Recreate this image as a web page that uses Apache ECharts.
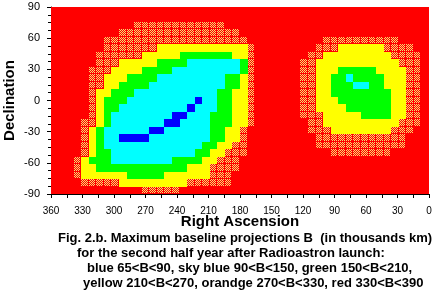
<!DOCTYPE html>
<html><head><meta charset="utf-8">
<script src="https://cdn.jsdelivr.net/npm/echarts@6/dist/echarts.min.js"></script>
<style>html,body{margin:0;padding:0;background:#fff}#c{width:436px;height:297px}</style>
</head><body><div id="c"></div>
<script>
// ---- DATA ----
// Map cell size in degrees (RA and Dec)
const cellStep = 7.2;
// Class codes, low to high baseline B (thousands km)
const classCodes = ['b', 'c', 'g', 'y', 'o', 'r'];
const classNames = ['blue 65<B<90', 'sky blue 90<B<150', 'green 150<B<210', 'yellow 210<B<270', 'orange 270<B<330', 'red 330<B<390'];
// Rows from Dec +90 (top) to Dec -90 (bottom); columns from RA 360 (left) to RA 0 (right); run-length encoded
const rows = [
  "r50",
  "r50",
  "r11 o12 r27",
  "r9 o16 r25",
  "r7 o19 r10 o10 r4",
  "r7 o7 y12 o1 r8 o3 y6 o4 r2",
  "r6 o6 y5 g7 y2 o1 r7 o2 y9 o4 r1",
  "r6 o3 y5 g4 c7 g1 o1 r6 o2 y11 o3 r1",
  "r5 o3 y4 g4 c9 g1 o1 r6 o2 y3 g5 y4 o2 r1",
  "r5 o2 y3 g4 c9 g2 y1 o1 r6 o2 y2 g2 c1 g4 y3 o2 r1",
  "r5 o2 y2 g4 c10 g2 y1 o1 r6 o2 y2 g3 c2 g2 y3 o2 r1",
  "r5 o1 y2 g3 c11 g2 y2 o1 r6 o2 y2 g8 y2 o2 r1",
  "r5 o1 y1 g3 c9 b1 c2 g2 y2 o1 r6 o2 y3 g7 y2 o2 r1",
  "r5 o1 y1 g2 c9 b1 c3 g2 y2 o1 r6 o2 y4 g6 y2 o2 r1",
  "r5 o1 y1 g1 c8 b2 c3 g3 y2 o1 r6 o3 y5 g4 y2 o2 r1",
  "r4 o2 y1 g1 c7 b2 c4 g3 y2 o1 r7 o2 y10 o3 r1",
  "r4 o1 y1 g1 c6 b2 c6 g2 y2 o1 r8 o3 y8 o3 r2",
  "r4 o1 y1 g1 c2 b4 c8 g2 y2 o1 r9 o12 r3",
  "r4 o1 y1 g1 c13 g2 y2 o2 r9 o12 r3",
  "r4 o1 y1 g2 c11 g2 y2 o3 r11 o8 r5",
  "r3 o1 y1 g3 c8 g4 y2 o3 r25",
  "r3 o1 y2 g12 y3 o4 r25",
  "r3 o1 y6 g5 y6 o3 r26",
  "r4 o5 y9 o6 r26",
  "r12 o5 r33"
];
const xAxisName = 'Right Ascension';
const yAxisName = 'Declination';
const captionLines = [
  'Fig. 2.b. Maximum baseline projections B  (in thousands km)',
  'for the second half year after Radioastron launch:',
  'blue 65<B<90, sky blue 90<B<150, green 150<B<210,',
  'yellow 210<B<270, orandge 270<B<330, red 330<B<390'
];

// ---- BUILD ----
const cells = [];
rows.forEach(function (row, r) {
  let col = 0;
  row.split(' ').forEach(function (tok) {
    const code = tok[0], n = parseInt(tok.slice(1), 10);
    for (let i = 0; i < n; i++, col++) {
      cells.push([360 - cellStep * (col + 0.5), 90 - cellStep * (r + 0.5), classCodes.indexOf(code)]);
    }
  });
});

// dithered orange (red + pale yellow) pattern
const pc = document.createElement('canvas');
pc.width = 2; pc.height = 2;
const pctx = pc.getContext('2d');
pctx.fillStyle = '#ff0000'; pctx.fillRect(0, 0, 2, 2);
pctx.fillStyle = '#f6dc70'; pctx.fillRect(0, 0, 1, 1); pctx.fillRect(1, 1, 1, 1);
const fills = ['#0000ff', '#00ffff', '#00ff00', '#ffff00', { image: pc, repeat: 'repeat' }, '#ff0000'];

const FONT = '"Liberation Sans", Arial, sans-serif';
const chart = echarts.init(document.getElementById('c'), null, { renderer: 'canvas' });

function renderItem(params, api) {
  const ra = api.value(0), dec = api.value(1), k = api.value(2);
  const h = cellStep / 2;
  const a = api.coord([ra + h, dec + h]);
  const b = api.coord([ra - h, dec - h]);
  const x0 = Math.round(Math.min(a[0], b[0])), x1 = Math.round(Math.max(a[0], b[0]));
  const y0 = Math.round(Math.min(a[1], b[1])), y1 = Math.round(Math.max(a[1], b[1]));
  const gap = classCodes[k] === 'o' ? 1 : 0;
  return {
    type: 'rect',
    shape: { x: x0, y: y0, width: x1 - x0 - gap, height: y1 - y0 - gap },
    style: { fill: fills[k] }
  };
}

const axisCommon = {
  axisLine: { show: true, onZero: false, lineStyle: { color: '#000', width: 1 } },
  axisTick: { show: true, length: 4, lineStyle: { color: '#000', width: 1 } },
  axisLabel: { fontSize: 10, color: '#000', fontFamily: FONT },
  splitLine: { show: false },
  nameMoveOverlap: false,
  nameTextStyle: { fontSize: 15, fontWeight: 'bold', color: '#000', fontFamily: FONT }
};

chart.setOption({
  animation: false,
  backgroundColor: '#ffffff',
  grid: { left: 51, right: 7, top: 7, bottom: 103, show: true, backgroundColor: '#ff0000', borderWidth: 0, containLabel: false, outerBoundsMode: 'none' },
  xAxis: Object.assign({}, axisCommon, {
    type: 'value', min: 0, max: 360, interval: 30, inverse: true,
    name: xAxisName, nameLocation: 'middle', nameGap: 20,
    minorTick: { show: true, splitNumber: 2, length: 4, lineStyle: { color: '#000' } },
    axisLabel: Object.assign({}, axisCommon.axisLabel, { margin: 12 })
  }),
  yAxis: Object.assign({}, axisCommon, {
    type: 'value', min: -90, max: 90, interval: 30,
    name: yAxisName, nameLocation: 'middle', nameGap: 34, nameRotate: 90,
    minorTick: { show: true, splitNumber: 4, length: 3, lineStyle: { color: '#000' } },
    axisLabel: Object.assign({}, axisCommon.axisLabel, { margin: 11, fontSize: 11 })
  }),
  series: [{
    type: 'custom',
    renderItem: renderItem,
    data: cells,
    encode: { x: 0, y: 1 },
    clip: true
  }],
  graphic: [
    { type: 'text', x: 58, y: 238, style: { text: captionLines[0], font: 'bold 13px ' + FONT, fill: '#000', verticalAlign: 'middle' } },
    { type: 'text', x: 77, y: 253, style: { text: captionLines[1], font: 'bold 13px ' + FONT, fill: '#000', verticalAlign: 'middle' } },
    { type: 'text', x: 87, y: 268, style: { text: captionLines[2], font: 'bold 13px ' + FONT, fill: '#000', verticalAlign: 'middle' } },
    { type: 'text', x: 83, y: 283, style: { text: captionLines[3], font: 'bold 13px ' + FONT, fill: '#000', verticalAlign: 'middle' } }
  ]
});
</script>
</body></html>
